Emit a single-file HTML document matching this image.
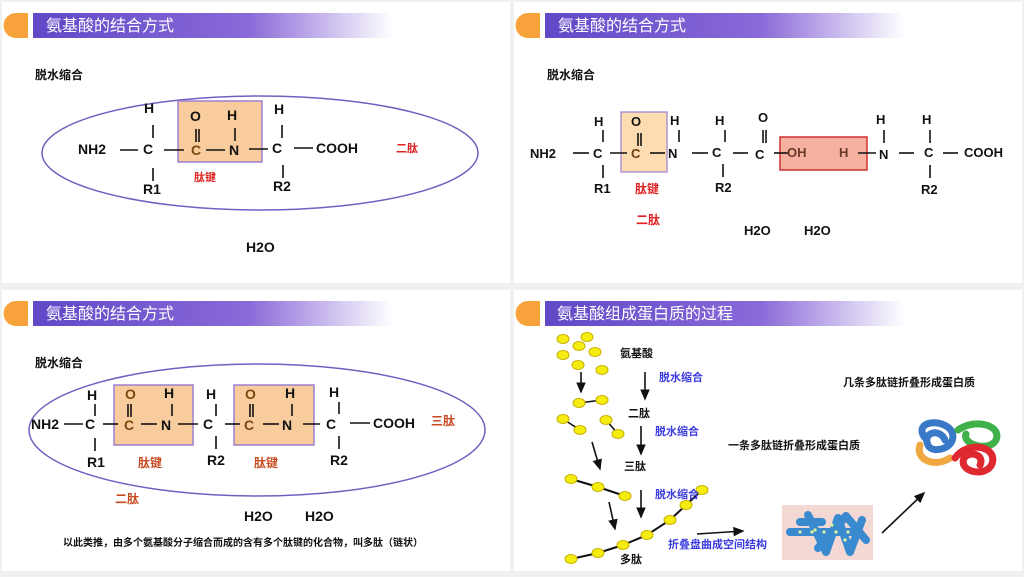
<!DOCTYPE html>
<html><head><meta charset="utf-8"><style>
body{margin:0;width:1024px;height:577px;overflow:hidden;background:#eef0f1}
svg{display:block}
text{font-family:"Liberation Sans","Noto Sans CJK SC",sans-serif}
.c{font-size:14px;font-weight:bold;fill:#111}
.t{font-size:16px;fill:#fff}
.s{font-size:12px;font-weight:bold;fill:#111}
.m{font-size:13px;font-weight:bold;fill:#111}
.r{font-size:12px;font-weight:bold;fill:#e02020}
.o{font-size:12px;font-weight:bold;fill:#c84a20}
.b{font-size:11px;font-weight:bold;fill:#3a3ae0}
.k{font-size:11px;font-weight:bold;fill:#111}
line{stroke:#111;stroke-width:1.6}
</style></head><body>
<svg width="1024" height="577" viewBox="0 0 1024 577">
<defs>
<linearGradient id="g" x1="0" x2="1"><stop offset="0" stop-color="#6048c8"/><stop offset="0.6" stop-color="#8a6ad8"/><stop offset="1" stop-color="#8a6ad8" stop-opacity="0"/></linearGradient>
<marker id="a" markerWidth="8" markerHeight="8" refX="6" refY="4" orient="auto"><path d="M0,1 L7,4 L0,7z" fill="#111"/></marker>
</defs>
<rect x="2" y="2" width="508" height="281" fill="#fff"/>
<rect x="514" y="2" width="508" height="281" fill="#fff"/>
<rect x="2" y="290" width="508" height="281" fill="#fff"/>
<rect x="514" y="290" width="508" height="281" fill="#fff"/>
<g id="h"><path d="M16,13 H28 V38 H16 A12.5,12.5 0 0 1 16,13z" fill="#f7a23a"/><rect x="33" y="13" width="360" height="25" fill="url(#g)"/></g>
<use href="#h" x="512"/><use href="#h" y="288"/><use href="#h" x="512" y="288"/>
<text class="t" x="46" y="31">氨基酸的结合方式</text>
<text class="t" x="558" y="31">氨基酸的结合方式</text>
<text class="t" x="46" y="319">氨基酸的结合方式</text>
<text class="t" x="557" y="319">氨基酸组成蛋白质的过程</text>

<!-- panel 1 -->
<text class="s" x="35" y="79">脱水缩合</text>
<ellipse cx="260" cy="153" rx="218" ry="57" fill="none" stroke="#7060c0" stroke-width="1.5"/>
<rect x="178" y="101" width="84" height="61" fill="#f9cc9e" stroke="#9a80d0" stroke-width="1.5"/>
<text class="c" x="144" y="113">H</text><text class="c" x="190" y="121" fill="#7a4a10">O</text><text class="c" x="227" y="120">H</text><text class="c" x="274" y="114">H</text>
<line x1="153" y1="125" x2="153" y2="138"/><line x1="196" y1="129" x2="196" y2="142"/><line x1="199" y1="129" x2="199" y2="142"/><line x1="235" y1="128" x2="235" y2="141"/><line x1="282" y1="125" x2="282" y2="138"/>
<text class="c" x="78" y="154">NH2</text><line x1="120" y1="150" x2="138" y2="150"/>
<text class="c" x="143" y="154">C</text><line x1="164" y1="150" x2="184" y2="150"/>
<text class="c" x="191" y="155" style="fill:#7a4a10">C</text><line x1="206" y1="150" x2="225" y2="150"/>
<text class="c" x="229" y="155">N</text><line x1="249" y1="149" x2="268" y2="149"/>
<text class="c" x="272" y="153">C</text><line x1="294" y1="148" x2="313" y2="148"/>
<text class="c" x="316" y="153">COOH</text>
<line x1="153" y1="168" x2="153" y2="181"/><line x1="283" y1="165" x2="283" y2="178"/>
<text class="c" x="143" y="194">R1</text><text class="c" x="273" y="191">R2</text>
<text class="r" x="194" y="181" style="font-size:11px">肽键</text>
<text class="r" x="396" y="152" style="font-size:11px">二肽</text>
<text class="c" x="246" y="252">H2O</text>

<!-- panel 2 -->
<text class="s" x="547" y="79">脱水缩合</text>
<rect x="621" y="112" width="46" height="60" fill="#fcdcb0" stroke="#9a80d0" stroke-width="1.2"/>
<rect x="780" y="137" width="87" height="33" fill="#f6b0a0" stroke="#d03030" stroke-width="1.5"/>
<text class="m" x="530" y="158">NH2</text><line x1="573" y1="153" x2="589" y2="153"/>
<text class="m" x="593" y="158">C</text><line x1="610" y1="153" x2="627" y2="153"/>
<text class="m" x="631" y="158" style="fill:#6a3a10">C</text><line x1="650" y1="153" x2="665" y2="153"/>
<text class="m" x="668" y="158">N</text><line x1="692" y1="153" x2="708" y2="153"/>
<text class="m" x="712" y="157">C</text><line x1="733" y1="153" x2="748" y2="153"/>
<text class="m" x="755" y="159">C</text><line x1="774" y1="153" x2="788" y2="153"/>
<text class="m" x="787" y="157" style="fill:#6a3a2a">OH</text><text class="m" x="839" y="157" style="fill:#6a3a2a">H</text><line x1="858" y1="153" x2="876" y2="153"/>
<text class="m" x="879" y="159">N</text><line x1="899" y1="153" x2="914" y2="153"/>
<text class="m" x="924" y="157">C</text><line x1="943" y1="153" x2="958" y2="153"/>
<text class="m" x="964" y="157">COOH</text>
<text class="m" x="594" y="126">H</text><text class="m" x="631" y="126">O</text><text class="m" x="670" y="125">H</text><text class="m" x="715" y="125">H</text><text class="m" x="758" y="122">O</text><text class="m" x="876" y="124">H</text><text class="m" x="922" y="124">H</text>
<text class="m" x="594" y="193">R1</text><text class="m" x="715" y="192">R2</text><text class="m" x="921" y="194">R2</text>
<text class="m" x="744" y="235">H2O</text><text class="m" x="804" y="235">H2O</text>
<line x1="603" y1="130" x2="603" y2="142"/><line x1="603" y1="165" x2="603" y2="178"/>
<line x1="638" y1="133" x2="638" y2="146"/><line x1="641" y1="133" x2="641" y2="146"/><line x1="679" y1="130" x2="679" y2="142"/>
<line x1="725" y1="130" x2="725" y2="142"/><line x1="723" y1="164" x2="723" y2="177"/>
<line x1="763" y1="130" x2="763" y2="143"/><line x1="766" y1="130" x2="766" y2="143"/>
<line x1="884" y1="130" x2="884" y2="143"/><line x1="930" y1="130" x2="930" y2="143"/><line x1="930" y1="165" x2="930" y2="178"/>
<text class="r" x="635" y="193">肽键</text><text class="r" x="636" y="224">二肽</text>

<!-- panel 3 -->
<text class="s" x="35" y="367">脱水缩合</text>
<ellipse cx="257" cy="430" rx="228" ry="66" fill="none" stroke="#7060c0" stroke-width="1.5"/>
<rect x="114" y="385" width="79" height="60" fill="#f9cc9e" stroke="#9a80d0" stroke-width="1.5"/>
<rect x="234" y="385" width="80" height="60" fill="#f9cc9e" stroke="#9a80d0" stroke-width="1.5"/>
<text class="c" x="31" y="429">NH2</text><line x1="64" y1="424" x2="83" y2="424"/>
<text class="c" x="85" y="429">C</text><line x1="103" y1="424" x2="118" y2="424"/>
<text class="c" x="124" y="430" style="fill:#7a4a10">C</text><line x1="141" y1="424" x2="157" y2="424"/>
<text class="c" x="161" y="430">N</text><line x1="178" y1="424" x2="198" y2="424"/>
<text class="c" x="203" y="429">C</text><line x1="225" y1="424" x2="240" y2="424"/>
<text class="c" x="244" y="430" style="fill:#7a4a10">C</text><line x1="263" y1="424" x2="279" y2="424"/>
<text class="c" x="282" y="430">N</text><line x1="303" y1="424" x2="320" y2="424"/>
<text class="c" x="326" y="429">C</text><line x1="350" y1="423" x2="370" y2="423"/>
<text class="c" x="373" y="428">COOH</text>
<text class="c" x="87" y="400">H</text><text class="c" x="125" y="399" style="fill:#7a4a10">O</text><text class="c" x="164" y="398">H</text><text class="c" x="206" y="399">H</text><text class="c" x="245" y="399" style="fill:#7a4a10">O</text><text class="c" x="285" y="398">H</text><text class="c" x="329" y="397">H</text>
<line x1="95" y1="404" x2="95" y2="416"/><line x1="128" y1="404" x2="128" y2="417"/><line x1="131" y1="404" x2="131" y2="417"/><line x1="172" y1="404" x2="172" y2="416"/><line x1="216" y1="404" x2="216" y2="416"/><line x1="250" y1="404" x2="250" y2="417"/><line x1="253" y1="404" x2="253" y2="417"/><line x1="292" y1="404" x2="292" y2="416"/><line x1="339" y1="402" x2="339" y2="414"/>
<line x1="95" y1="438" x2="95" y2="451"/><line x1="216" y1="436" x2="216" y2="449"/><line x1="339" y1="436" x2="339" y2="449"/>
<text class="c" x="87" y="467">R1</text><text class="c" x="207" y="465">R2</text><text class="c" x="330" y="465">R2</text>
<text class="o" x="138" y="467">肽键</text><text class="o" x="254" y="467">肽键</text><text class="o" x="431" y="425">三肽</text><text class="o" x="115" y="503">二肽</text>
<text class="c" x="244" y="521">H2O</text><text class="c" x="305" y="521">H2O</text>
<text x="63" y="546" style="font-size:10px;font-weight:bold;fill:#111">以此类推，由多个氨基酸分子缩合而成的含有多个肽键的化合物，叫多肽（链状）</text>

<!-- panel 4 -->
<g fill="#f5ec10" stroke="#c8b000" stroke-width="1">
<ellipse cx="563" cy="339" rx="6" ry="4.5"/><ellipse cx="587" cy="337" rx="6" ry="4.5"/><ellipse cx="579" cy="346" rx="6" ry="4.5"/><ellipse cx="563" cy="355" rx="6" ry="4.5"/><ellipse cx="595" cy="352" rx="6" ry="4.5"/><ellipse cx="578" cy="365" rx="6" ry="4.5"/><ellipse cx="602" cy="370" rx="6" ry="4.5"/>
</g>
<g stroke="#111" stroke-width="2">
<line x1="579" y1="403" x2="602" y2="400"/><line x1="563" y1="419" x2="580" y2="430"/><line x1="606" y1="420" x2="618" y2="434"/>
<polyline fill="none" points="571,479 598,487 625,496"/>
<polyline fill="none" points="571,559 598,553 623,545 647,535 670,520 686,505 702,490"/>
</g>
<g fill="#f5ec10" stroke="#c8b000" stroke-width="1">
<ellipse cx="579" cy="403" rx="6" ry="4.5"/><ellipse cx="602" cy="400" rx="6" ry="4.5"/><ellipse cx="563" cy="419" rx="6" ry="4.5"/><ellipse cx="580" cy="430" rx="6" ry="4.5"/><ellipse cx="606" cy="420" rx="6" ry="4.5"/><ellipse cx="618" cy="434" rx="6" ry="4.5"/>
<ellipse cx="571" cy="479" rx="6" ry="4.5"/><ellipse cx="598" cy="487" rx="6" ry="4.5"/><ellipse cx="625" cy="496" rx="6" ry="4.5"/>
<ellipse cx="571" cy="559" rx="6" ry="4.5"/><ellipse cx="598" cy="553" rx="6" ry="4.5"/><ellipse cx="623" cy="545" rx="6" ry="4.5"/><ellipse cx="647" cy="535" rx="6" ry="4.5"/><ellipse cx="670" cy="520" rx="6" ry="4.5"/><ellipse cx="686" cy="505" rx="6" ry="4.5"/><ellipse cx="702" cy="490" rx="6" ry="4.5"/>
</g>
<g stroke="#111" stroke-width="1.8" marker-end="url(#a)">
<line x1="581" y1="372" x2="581" y2="392"/><line x1="645" y1="372" x2="645" y2="399"/>
<line x1="641" y1="426" x2="641" y2="454"/><line x1="592" y1="442" x2="600" y2="469"/>
<line x1="641" y1="490" x2="641" y2="517"/><line x1="609" y1="502" x2="615" y2="529"/>
<line x1="697" y1="534" x2="743" y2="531"/><line x1="882" y1="533" x2="924" y2="493"/>
</g>
<text class="k" x="620" y="357">氨基酸</text><text class="k" x="628" y="417">二肽</text><text class="k" x="624" y="470">三肽</text><text class="k" x="620" y="563">多肽</text>
<text class="b" x="659" y="381">脱水缩合</text><text class="b" x="655" y="435">脱水缩合</text><text class="b" x="655" y="498">脱水缩合</text>
<text class="b" x="668" y="548">折叠盘曲成空间结构</text>
<text class="k" x="728" y="449">一条多肽链折叠形成蛋白质</text>
<text class="k" x="843" y="386">几条多肽链折叠形成蛋白质</text>
<rect x="782" y="505" width="91" height="55" fill="#f3d8d4"/>
<g fill="none" stroke="#3a8ad0" stroke-width="8" stroke-linecap="round" stroke-linejoin="round">
<path d="M790,532 L858,532"/>
<path d="M808,515 L826,552 L838,518 L850,552 L862,520"/>
<path d="M818,548 L846,516 L866,540"/>
<path d="M800,522 L822,522"/>
</g>
<g fill="#e0f0a0"><circle cx="800" cy="532" r="1.6"/><circle cx="812" cy="532" r="1.6"/><circle cx="824" cy="532" r="1.6"/><circle cx="836" cy="532" r="1.6"/><circle cx="848" cy="532" r="1.6"/><circle cx="815" cy="530" r="1.6"/><circle cx="845" cy="540" r="1.6"/><circle cx="832" cy="525" r="1.6"/></g>
<g fill="none" stroke-width="7" stroke-linecap="round">
<path d="M920,445 C915,460 935,468 950,458" stroke="#f0a840"/>
<path d="M925,438 C912,420 945,418 952,432 C958,448 932,455 928,445 C922,432 940,428 945,440" stroke="#3a78c8"/>
<path d="M958,430 C975,418 1002,425 996,440 C990,452 962,445 966,434" stroke="#40b048"/>
<path d="M955,458 C968,440 998,446 992,464 C986,478 958,472 964,458 C970,450 985,455 980,465" stroke="#e02830"/>
</g>
</svg>
</body></html>
